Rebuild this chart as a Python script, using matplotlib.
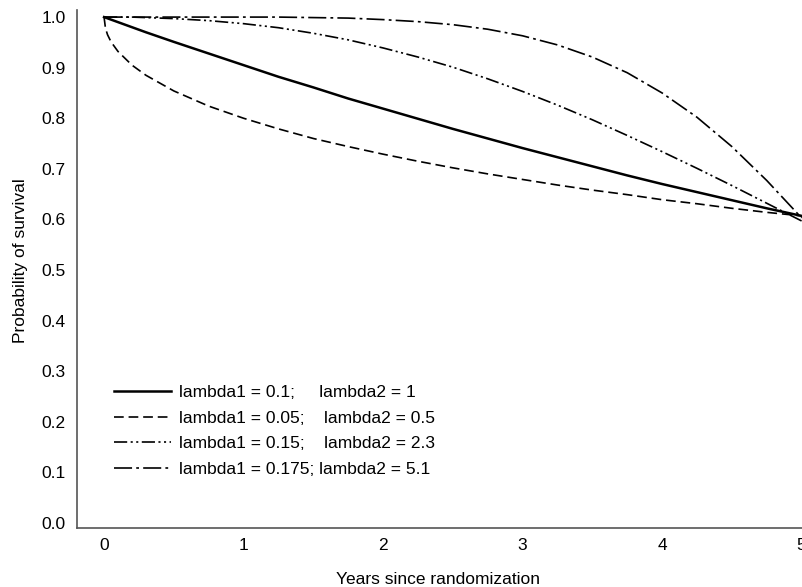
import matplotlib
matplotlib.use('Agg')
import matplotlib.pyplot as plt

plt.rcParams['font.family'] = ['Liberation Sans', 'DejaVu Sans']
plt.rcParams['lines.scale_dashes'] = False

# years since randomization (denser near 0 where the curves bend)
years = [0, 0.01, 0.025, 0.05, 0.1, 0.2, 0.3, 0.5, 0.75, 1, 1.25, 1.5, 1.75,
         2, 2.25, 2.5, 2.75, 3, 3.25, 3.5, 3.75, 4, 4.25, 4.5, 4.75, 5]

# survival
surv_a = [1.0, 0.999, 0.9975, 0.995, 0.990, 0.980, 0.970, 0.951, 0.928, 0.905,
          0.882, 0.861, 0.839, 0.819, 0.799, 0.779, 0.760, 0.741, 0.723, 0.705,
          0.687, 0.670, 0.654, 0.638, 0.622, 0.607]
surv_b = [1.0, 0.978, 0.965, 0.951, 0.932, 0.905, 0.885, 0.854, 0.824, 0.800,
          0.779, 0.760, 0.744, 0.729, 0.715, 0.702, 0.690, 0.679, 0.668, 0.658,
          0.649, 0.639, 0.631, 0.622, 0.614, 0.607]
surv_c = [1.0, 1.0, 1.0, 1.0, 1.0, 1.0, 0.999, 0.997, 0.993, 0.987,
          0.979, 0.968, 0.955, 0.939, 0.921, 0.901, 0.878, 0.853, 0.826, 0.797,
          0.766, 0.734, 0.701, 0.667, 0.632, 0.597]
surv_d = [1.0, 1.0, 1.0, 1.0, 1.0, 1.0, 1.0, 1.0, 1.0, 1.0,
          1.0, 0.999, 0.998, 0.995, 0.991, 0.985, 0.976, 0.963, 0.945, 0.921,
          0.890, 0.850, 0.802, 0.744, 0.677, 0.603]

labels = ['lambda1 = 0.1;     lambda2 = 1',
          'lambda1 = 0.05;    lambda2 = 0.5',
          'lambda1 = 0.15;    lambda2 = 2.3',
          'lambda1 = 0.175; lambda2 = 5.1']

fig = plt.figure(figsize=(8.03, 5.87), dpi=100)
ax = fig.add_axes([77 / 803, 59 / 587, 726 / 803, 518 / 587])

ax.plot(years, surv_a, color='black', lw=1.8, ls='-', label=labels[0])
ax.plot(years, surv_b, color='black', lw=1.2, ls=(0, (7, 3.5)), label=labels[1])
ax.plot(years, surv_c, color='black', lw=1.2,
        ls=(0, (9.5, 2.5, 1.5, 2.5, 1.5, 2.5)), label=labels[2])
ax.plot(years, surv_d, color='black', lw=1.2, ls=(0, (13, 3, 2, 3)), label=labels[3])

ax.set_xlim(-0.194, 5.01)
ax.set_ylim(-0.010, 1.014)
ax.set_xticks([0, 1, 2, 3, 4, 5])
ax.set_yticks([i / 10 for i in range(11)])
ax.set_yticklabels(['%.1f' % (i / 10) for i in range(11)])
ax.tick_params(length=0, labelsize=12.5, pad=8)
ax.tick_params(axis='x', pad=7.5)

for s in ['top', 'right']:
    ax.spines[s].set_visible(False)
for s in ['left', 'bottom']:
    ax.spines[s].set_color('#555555')
    ax.spines[s].set_linewidth(1.2)

ax.set_xlabel('Years since randomization', fontsize=12.5)
ax.set_ylabel('Probability of survival', fontsize=12.5)
ax.xaxis.set_label_coords(0.497, -0.085)
ax.yaxis.set_label_coords(-0.068, 0.517)

ax.legend(loc='upper left', bbox_to_anchor=(114 / 803, 1 - 385 / 587),
          bbox_transform=fig.transFigure, frameon=False, borderpad=0,
          borderaxespad=0, fontsize=12.5, handlelength=3.3,
          handletextpad=0.45, labelspacing=0.6)

fig.savefig('out.png', dpi=100)
